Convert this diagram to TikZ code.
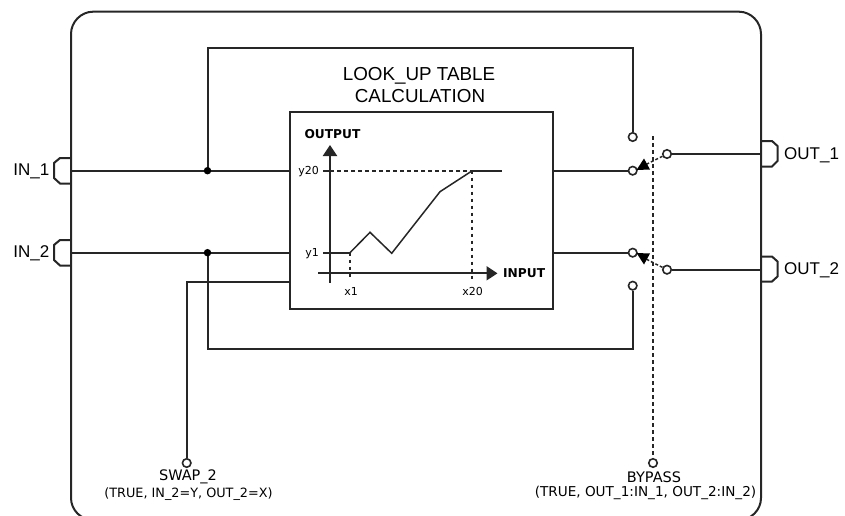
\documentclass[tikz,border=0pt]{standalone}
\usepackage{fontspec}
\setmainfont{Liberation Sans}
\newfontfamily\smallfont{DejaVu Sans}
\usetikzlibrary{arrows.meta,backgrounds}
\tikzset{
  x=1pt,y=-1pt,
  wire/.style={draw=black!85,line width=2pt},
  thin wire/.style={draw=black!85,line width=1.5pt},
  dotline/.style={draw=black!85,line width=1.7pt,dash pattern=on 3.5pt off 3.5pt},
  port/.style={circle,draw=black!85,line width=1.6pt,fill=white,minimum size=8.5pt,inner sep=0pt},
  junction/.style={circle,fill=black,minimum size=7.5pt,inner sep=0pt},
  bigtext/.style={inner sep=0pt,font=\fontsize{17}{17}\selectfont},
  titletext/.style={inner sep=0pt,font=\fontsize{18.8}{18.8}\selectfont},
  smalltext/.style={inner sep=0pt,font=\smallfont\fontsize{11}{11}\selectfont},
  bottomtext/.style={inner sep=0pt,font=\smallfont\fontsize{12.8}{12.8}\selectfont},
  bottomwide/.style={inner sep=0pt,font=\smallfont\fontsize{13.6}{13.6}\selectfont},
  bottomhead/.style={inner sep=0pt,font=\smallfont\fontsize{14.5}{14.5}\selectfont},
  axistext/.style={inner sep=0pt,font=\smallfont\bfseries\fontsize{12.2}{12.2}\selectfont},
  blockbox/.style={draw=black!85,line width=2pt,minimum width=263pt,minimum height=197pt,inner sep=0pt},
  bighead/.style={-{Triangle[length=11pt,width=14pt]}},
}
\begin{document}
\begin{tikzpicture}
\useasboundingbox (0,0) rectangle (845,516);
\begin{scope}
\clip (0,0) rectangle (845,516);
\draw[wire] (93,11.7) -- (739,11.7) .. controls (751,11.7) and (761,22) .. (761,34) -- (761,498) .. controls (761,510) and (751,520) .. (739,520) -- (93,520) .. controls (81,520) and (71,510) .. (71,498) -- (71,34) .. controls (71,22) and (81,11.7) .. (93,11.7) -- cycle;
\end{scope}
% ports on the wall
\draw[wire] (71,158) -- (60,158) -- (54,163) -- (54,178) -- (60,183.5) -- (71,183.5);
\draw[wire] (71,240) -- (60,240) -- (54,245) -- (54,260) -- (60,265.5) -- (71,265.5);
\draw[wire] (761,141) -- (772,141) -- (777.5,146) -- (777.5,161) -- (772,166.5) -- (761,166.5);
\draw[wire] (761,256.5) -- (772,256.5) -- (777.5,261.5) -- (777.5,276.5) -- (772,281.5) -- (761,281.5);
\node[bigtext,anchor=east] (in1) at (49.5,171) {IN\_1};
\node[bigtext,anchor=east] (in2) at (49.5,253) {IN\_2};
\node[bigtext,anchor=west] (out1) at (784,155) {OUT\_1};
\node[bigtext,anchor=west] (out2) at (784,270) {OUT\_2};
\coordinate (w1) at (71,170.7);
\coordinate (w2) at (71,252.7);
\coordinate (w3) at (761,154);
\coordinate (w4) at (761,269.7);
% block
\node[blockbox,anchor=north west] (block) at (289,111) {};
\coordinate (bl1) at (289,170.7);
\coordinate (bl2) at (289,252.7);
\coordinate (bl3) at (289,281.7);
\coordinate (br1) at (552,170.7);
\coordinate (br2) at (552,252.7);
\node[titletext] (title1) at (419,75.5) {LOOK\_UP TABLE};
\node[titletext] (title2) at (420,96) {CALCULATION};
% junctions
\node[junction] (j1) at (207.5,170.7) {};
\node[junction] (j2) at (207.5,252.7) {};
% switch contacts
\node[port] (top) at (632.7,137) {};
\node[port] (s1) at (632.7,170.7) {};
\node[port] (s2) at (632.7,252.7) {};
\node[port] (bot) at (632.7,285.7) {};
\node[port] (o1) at (667,154) {};
\node[port] (o2) at (667,269.7) {};
\node[port] (swap) at (186.7,463) {};
\node[port] (bypass) at (653,463) {};
\coordinate (dtop) at (653,136);
% connectors
\begin{scope}[on background layer]
\draw[wire] (w1) -- (bl1);
\draw[wire] (w2) -- (bl2);
\draw[wire] (j1.center) -- (207.5,48.3) -- (632.7,48.3) -- (top);
\draw[wire] (j2.center) -- (207.5,349) -- (632.7,349) -- (bot);
\draw[wire] (swap) -- (186.7,281.7) -- (bl3);
\draw[wire] (br1) -- (s1);
\draw[wire] (br2) -- (s2);
\draw[wire] (o1) -- (w3);
\draw[wire] (o2) -- (w4);
\draw[dotline] (dtop) -- (bypass);
\draw[thin wire,dash pattern=on 3pt off 2pt] (o1) -- (646,164.5);
\draw[thin wire,dash pattern=on 3pt off 2pt] (o2) -- (646,259);
\end{scope}
\fill[black] (636.5,170) -- (644,158.5) -- (650,169.5) -- cycle;
\fill[black] (636.5,253) -- (644,264.5) -- (650,253.5) -- cycle;
% graph
\coordinate (ytip) at (330,145);
\coordinate (ybase) at (330,282.7);
\coordinate (xbase) at (318,273.3);
\coordinate (xtip) at (497.5,273.3);
\draw[wire,bighead] (ybase) -- (ytip);
\draw[wire,bighead] (xbase) -- (xtip);
\draw[wire] (323,170.7) -- (330,170.7);
\draw[wire] (323,252.7) -- (350,252.7);
\draw[thin wire] (350,252.7) -- (370,232.3) -- (391.7,253.3) -- (440,191.7) -- (472.3,170.7);
\draw[wire] (472.3,170.7) -- (501.7,170.7);
\draw[dotline] (330,170.7) -- (472.3,170.7);
\draw[dotline] (350,252.7) -- (350,280);
\draw[dotline] (472.3,170.7) -- (472.3,280);
\node[axistext] (lo) at (332.5,134) {OUTPUT};
\node[axistext,anchor=west] (li) at (503,273.5) {INPUT};
\node[smalltext,anchor=east] (ly20) at (319,171.5) {y20};
\node[smalltext,anchor=east] (ly1) at (319,253.5) {y1};
\node[smalltext] (lx1) at (351,291) {x1};
\node[smalltext] (lx20) at (472.5,291) {x20};
% bottom labels
\node[bottomhead] (sw1) at (188,477) {SWAP\_2};
\node[bottomtext] (sw2) at (188.5,494.5) {(TRUE, IN\_2=Y, OUT\_2=X)};
\node[bottomhead] (by1) at (654,477) {BYPASS};
\node[bottomwide] (by2) at (645.5,492.5) {(TRUE, OUT\_1:IN\_1, OUT\_2:IN\_2)};
\end{tikzpicture}
\end{document}
